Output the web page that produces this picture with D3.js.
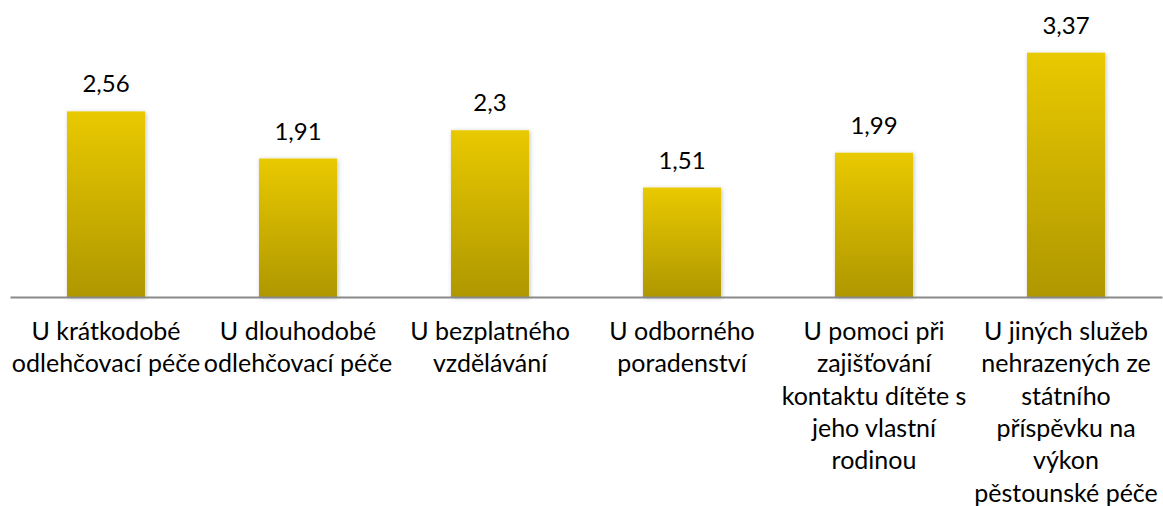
<!DOCTYPE html>
<html>
<head>
<meta charset="utf-8">
<script src="https://cdn.jsdelivr.net/npm/d3@7"></script>
<style>
  html, body { margin: 0; padding: 0; background: #fff; }
  svg { display: block; }
  text { font-family: Lato, "Open Sans", sans-serif; fill: #000; }
</style>
</head>
<body>
<svg id="chart" width="1163" height="506"></svg>
<script>
// Category labels, already broken into lines as they are printed under each bar
const categoryLines = [
  ["U krátkodobé", "odlehčovací péče"],
  ["U dlouhodobé", "odlehčovací péče"],
  ["U bezplatného", "vzdělávání"],
  ["U odborného", "poradenství"],
  ["U pomoci při", "zajišťování", "kontaktu dítěte s", "jeho vlastní", "rodinou"],
  ["U jiných služeb", "nehrazených ze", "státního", "příspěvku na", "výkon", "pěstounské péče"]
];
const categories = categoryLines.map(l => l.join(" "));
const values = [2.56, 1.91, 2.3, 1.51, 1.99, 3.37];
const valueLabels = ["2,56", "1,91", "2,3", "1,51", "1,99", "3,37"];
const yDomain = [0, 4];

const svg = d3.select("#chart");

const x = d3.scaleBand().domain(categories).range([10, 1162]).padding(0);
const y = d3.scaleLinear().domain(yDomain).range([297, 7]);
const barW = x.bandwidth() * 0.406;

const defs = svg.append("defs");
const grad = defs.append("linearGradient")
  .attr("id", "barFill").attr("x1", 0).attr("y1", 0).attr("x2", 0).attr("y2", 1);
grad.append("stop").attr("offset", "0%").attr("stop-color", "#E9C900");
grad.append("stop").attr("offset", "100%").attr("stop-color", "#AF9700");

const shadow = defs.append("filter").attr("id", "barShadow")
  .attr("x", "-20%").attr("y", "-10%").attr("width", "140%").attr("height", "120%");
shadow.append("feDropShadow")
  .attr("dx", 1).attr("dy", 1).attr("stdDeviation", 2)
  .attr("flood-color", "#000").attr("flood-opacity", 0.25);

// Bars
svg.append("g").selectAll("rect")
  .data(values)
  .join("rect")
  .attr("x", (d, i) => x(categories[i]) + (x.bandwidth() - barW) / 2)
  .attr("y", d => y(d))
  .attr("width", barW)
  .attr("height", d => y(0) - y(d))
  .attr("fill", "url(#barFill)")
  .attr("filter", "url(#barShadow)");

// Category axis along the baseline
const axis = svg.append("g")
  .attr("transform", `translate(0,${y(0)})`)
  .call(d3.axisBottom(x).tickSize(0).tickFormat(""));
axis.select(".domain").attr("stroke", "#898989").attr("stroke-width", 2);

// Value labels above bars
svg.append("g").selectAll("text")
  .data(values)
  .join("text")
  .attr("x", (d, i) => x(categories[i]) + x.bandwidth() / 2)
  .attr("y", d => y(d) - 19)
  .attr("text-anchor", "middle")
  .style("font-size", "24px")
  .text((d, i) => valueLabels[i]);

// Multi-line category labels
const lab = svg.append("g").selectAll("text")
  .data(categoryLines)
  .join("text")
  .attr("text-anchor", "middle")
  .style("font-size", "25px")
  .attr("transform", (d, i) => `translate(${x(categories[i]) + x.bandwidth() / 2},340)`);
lab.selectAll("tspan")
  .data(d => d)
  .join("tspan")
  .attr("x", 0)
  .attr("y", (d, j) => j * 32.3)
  .text(d => d);
</script>
</body>
</html>
